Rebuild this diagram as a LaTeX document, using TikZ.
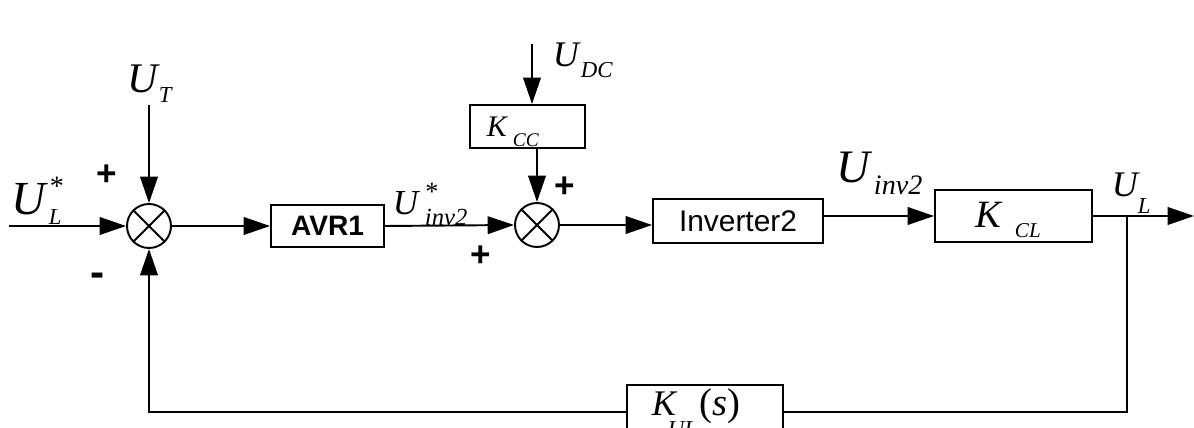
\documentclass[tikz,border=0pt]{standalone}
\usepackage{fontspec}
\setmainfont{Liberation Serif}
\newfontfamily\arialf{Liberation Sans}
\usetikzlibrary{arrows.meta}
\newcommand{\fs}[1]{\fontsize{#1}{#1}\selectfont}
\begin{document}
\begin{tikzpicture}[x=0.02cm,y=-0.02cm,line width=1.1pt,
  arr/.style={-{Triangle[length=15pt,width=10pt]}},
  blk/.style={draw,rectangle,inner sep=0pt,line width=1.1pt},
  sumj/.style={draw,circle,minimum size=0.88cm,inner sep=0pt,line width=1.1pt},
  lab/.style={inner sep=0pt,anchor=base west},
  sgn/.style={inner sep=0pt,anchor=center,font=\arialf\bfseries\fs{20}}]
\useasboundingbox (0,0) rectangle (1194,428);
\clip (0,0) rectangle (1194,428);

% junctions
\node[sumj] (s1) at (149,226) {};
\draw (s1.north west) -- (s1.south east) (s1.north east) -- (s1.south west);
\node[sumj] (s2) at (537,225) {};
\draw (s2.north west) -- (s2.south east) (s2.north east) -- (s2.south west);

% blocks
\node[blk,minimum width=2.26cm,minimum height=0.84cm,font=\arialf\bfseries\fs{16}] (avr) at (327.5,226) {AVR1};
\node[blk,minimum width=2.3cm,minimum height=0.86cm] (kcc) at (527.5,126.5) {};
\node[blk,minimum width=3.4cm,minimum height=0.88cm,font=\arialf\fs{17}] (inv) at (738,221) {Inverter2};
\node[blk,minimum width=3.14cm,minimum height=1.04cm] (kcl) at (1013.5,216) {};
\node[blk,minimum width=3.12cm,minimum height=1.08cm] (kul) at (705,412) {};

% free ends
\coordinate (in) at (9,226);
\coordinate (ut) at (149,105);
\coordinate (udc) at (532,44);
\coordinate (out) at (1194,216);
\coordinate (j) at (1127,216);

% connectors
\draw[arr] (in) -- (s1);
\draw[arr] (ut) -- (s1);
\draw[arr] (s1) -- (avr);
\draw[arr] (avr.east) -- (s2.west);
\draw[arr] (udc) -- (udc |- kcc.north);
\draw[arr] (kcc.south -| s2) -- (s2);
\draw[arr] (s2.east) -- (s2.east -| inv.west);
\draw[arr] (inv.east |- kcl.west) -- (kcl.west);
\draw[arr] (kcl.east) -- (out);
\draw (j) |- (kul.east);
\draw[arr] (kul.west) -| (s1.south);

% labels
\node[lab,font=\itshape\fs{27}] (lUL) at (11,215) {U};
\node[lab,font=\itshape\fs{13}] (lULs) at (48,225) {L};
\node[inner sep=0pt,font=\fs{16}] (lULa) at (57,186) {*};

\node[lab,font=\itshape\fs{24}] (lUT) at (127,93) {U};
\node[lab,font=\itshape\fs{13}] (lUTs) at (158,103) {T};

\node[lab,font=\itshape\fs{20.5}] (lUDC) at (552,67) {U};
\node[lab,font=\itshape\fs{13}] (lUDCs) at (580,78) {DC};

\node[lab,font=\itshape\fs{17}] (lK1) at (486,137) {K};
\node[lab,font=\itshape\fs{11}] (lK1s) at (512,147) {CC};

\node[lab,font=\itshape\fs{20}] (lUi) at (392,215) {U};
\node[lab,font=\itshape\fs{14}] (lUis) at (424,226) {inv2};
\node[inner sep=0pt,font=\fs{15}] (lUia) at (432,192) {*};

\node[lab,font=\itshape\fs{26.5}] (lUo) at (836,183) {U};
\node[lab,font=\itshape\fs{16}] (lUos) at (873,195) {inv2};

\node[lab,font=\itshape\fs{22}] (lK2) at (975,228) {K};
\node[lab,font=\itshape\fs{12}] (lK2s) at (1014,238) {CL};

\node[lab,font=\itshape\fs{20.5}] (lUL2) at (1111,197) {U};
\node[lab,font=\itshape\fs{13}] (lUL2s) at (1137,214) {L};

\node[lab,font=\itshape\fs{20.5}] (lK3) at (651,416) {K};
\node[lab,font=\itshape\fs{13}] (lK3s) at (667,437) {UL};
\node[lab,font=\fs{22}] (lK3p) at (699,416) {(\textit{s})};

% signs
\node[sgn] (p1) at (107,175) {+};
\node[sgn,font=\arialf\bfseries\fs{24}] (m1) at (98,280) {-};
\node[sgn] (p2) at (481,256) {+};
\node[sgn] (p3) at (565,187) {+};
\end{tikzpicture}
\end{document}
